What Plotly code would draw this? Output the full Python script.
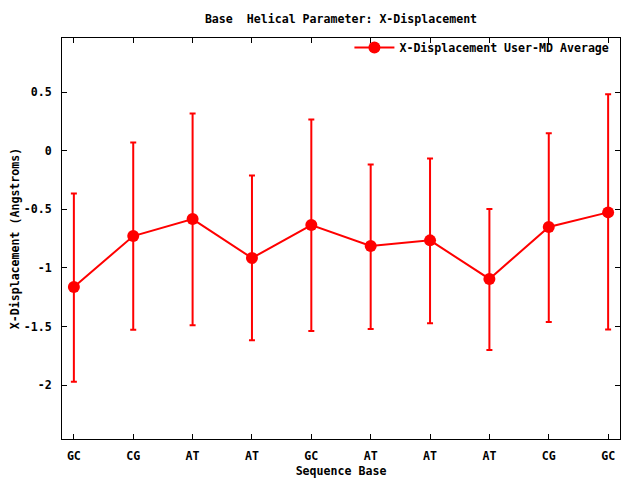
import plotly.graph_objects as go

categories = ["GC", "CG", "AT", "AT", "GC", "AT", "AT", "AT", "CG", "GC"]
mean_vals = [-1.163, -0.728, -0.583, -0.916, -0.634, -0.813, -0.765, -1.094, -0.651, -0.526]
upper_vals = [-0.364, 0.071, 0.318, -0.210, 0.267, -0.117, -0.066, -0.498, 0.150, 0.483]
lower_vals = [-1.973, -1.529, -1.489, -1.617, -1.538, -1.521, -1.472, -1.700, -1.461, -1.526]

x_idx = list(range(len(categories)))
err_plus = [u - m for u, m in zip(upper_vals, mean_vals)]
err_minus = [m - l for m, l in zip(mean_vals, lower_vals)]

FONT = dict(family="DejaVu Sans Mono", size=11.6, color="black", weight="bold")
RED = "#ff0000"

fig = go.Figure()
fig.add_trace(go.Scatter(
    x=x_idx, y=mean_vals, mode="lines+markers",
    name="X-Displacement User-MD Average",
    line=dict(color=RED, width=2),
    marker=dict(color=RED, size=12, symbol="circle"),
    error_y=dict(type="data", symmetric=False, array=err_plus, arrayminus=err_minus,
                 color=RED, thickness=2, width=3),
))

# page body has an 8px offset; margins compensate
fig.update_layout(
    width=640, height=480,
    margin=dict(l=54, r=28, t=30, b=49, autoexpand=False),
    paper_bgcolor="white", plot_bgcolor="white",
    font=FONT,
    title=dict(text="Base\u00a0 Helical Parameter: X-Displacement", x=0.5, xref="paper",
               y=1 - 11 / 480, yanchor="middle", font=FONT),
    showlegend=True,
    legend=dict(x=0.99, y=1.0125, xanchor="right", yanchor="top", bgcolor="rgba(0,0,0,0)",
                font=FONT, itemwidth=40),
)
fig.update_xaxes(
    range=[-0.2, 9.2], tickmode="array", tickvals=x_idx, ticktext=categories,
    showgrid=False, zeroline=False, showline=True, linecolor="black", linewidth=1,
    mirror="ticks", ticks="inside", ticklen=5, tickcolor="black",
    ticklabelstandoff=6,
    title=dict(text="Sequence Base", font=FONT, standoff=4),
    automargin=False,
)
fig.update_yaxes(
    range=[-2.461, 0.963], tickmode="array", tickvals=[0.5, 0, -0.5, -1, -1.5, -2],
    ticktext=["0.5", "0", "-0.5", "-1", "-1.5", "-2"],
    showgrid=False, zeroline=False, showline=True, linecolor="black", linewidth=1,
    mirror="ticks", ticks="inside", ticklen=5, tickcolor="black",
    ticklabelstandoff=7,
    title=dict(text="X-Displacement (Angstroms)", font=FONT, standoff=4),
    automargin=False,
)

fig.write_html("out.html")
